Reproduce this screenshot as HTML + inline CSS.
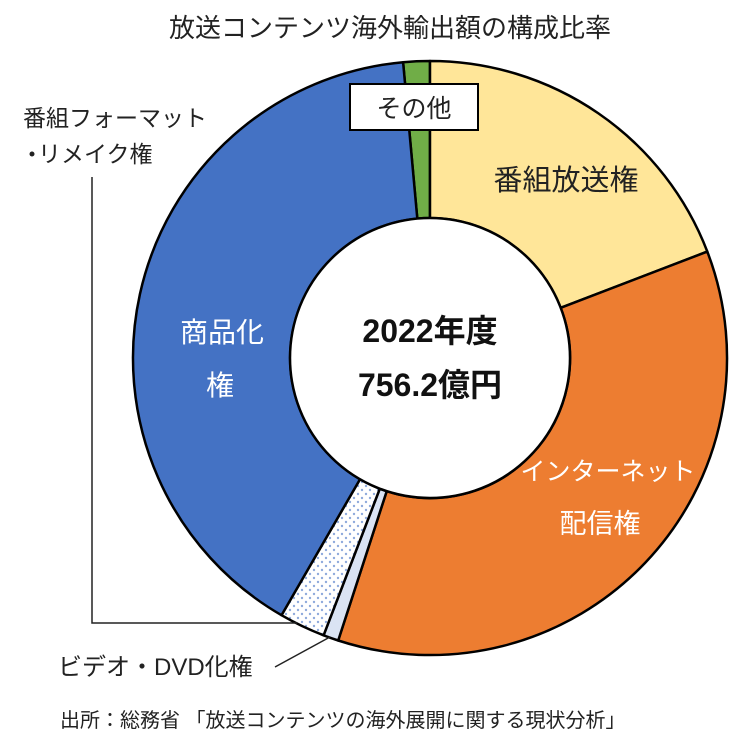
<!DOCTYPE html>
<html><head><meta charset="utf-8"><style>
html,body{margin:0;padding:0;background:#fff;}
body{width:750px;height:740px;overflow:hidden;}
svg{display:block;}
text{font-family:"Liberation Sans","Noto Sans CJK JP",sans-serif;}
</style></head><body>
<svg width="750" height="740" viewBox="0 0 750 740">
<defs>
<pattern id="dots" width="8" height="8" patternUnits="userSpaceOnUse">
<rect width="8" height="8" fill="#fff"/>
<circle cx="2" cy="2" r="1.2" fill="#8FAADC"/>
<circle cx="6" cy="6" r="1.2" fill="#8FAADC"/>
</pattern>
</defs>
<text x="390" y="37" font-size="26" text-anchor="middle" fill="#222">放送コンテンツ海外輸出額の構成比率</text>
<g stroke="#000" stroke-width="2.5" stroke-linejoin="round">
<path d="M403.1,62.2 A297,297 0 0 1 430,61 L430,218 A140,140 0 0 0 417.3,218.6 Z" fill="#70AD47"/>
<path d="M430,61 A297,297 0 0 1 707.3,251.6 L560.7,307.8 A140,140 0 0 0 430,218 Z" fill="#FFE699"/>
<path d="M707.3,251.6 A297,297 0 0 1 338.2,640.5 L386.7,491.2 A140,140 0 0 0 560.7,307.8 Z" fill="#ED7D31"/>
<path d="M338.2,640.5 A297,297 0 0 1 323.6,635.3 L379.8,488.7 A140,140 0 0 0 386.7,491.2 Z" fill="#DAE3F3"/>
<path d="M323.6,635.3 A297,297 0 0 1 281.5,615.2 L360,479.2 A140,140 0 0 0 379.8,488.7 Z" fill="url(#dots)"/>
<path d="M281.5,615.2 A297,297 0 0 1 403.1,62.2 L417.3,218.6 A140,140 0 0 0 360,479.2 Z" fill="#4472C4"/>
<circle cx="430" cy="358" r="140" fill="#fff"/>
</g>
<rect x="350" y="84" width="128" height="46" fill="#fff" stroke="#000" stroke-width="2"/>
<text x="414" y="117" font-size="25" text-anchor="middle" fill="#222">その他</text>
<text x="566" y="190" font-size="29" text-anchor="middle" fill="#222">番組放送権</text>
<text x="222" y="342" font-size="28" text-anchor="middle" fill="#fff">商品化</text>
<text x="220" y="395" font-size="28" text-anchor="middle" fill="#fff">権</text>
<text x="608" y="480" font-size="25" text-anchor="middle" fill="#fff">インターネット</text>
<text x="600" y="533" font-size="27" text-anchor="middle" fill="#fff">配信権</text>
<text x="430" y="342" font-size="32" font-weight="bold" text-anchor="middle" fill="#111">2022年度</text>
<text x="430" y="396" font-size="32" font-weight="bold" text-anchor="middle" fill="#111">756.2億円</text>
<text x="23" y="126" font-size="23" fill="#222">番組フォーマット</text>
<circle cx="32" cy="154" r="2.5" fill="#222"/>
<text x="38" y="162" font-size="23" fill="#222">リメイク権</text>
<polyline points="92,177 92,623 297,623" fill="none" stroke="#222" stroke-width="1.5"/>
<line x1="275" y1="667" x2="330" y2="637" stroke="#222" stroke-width="1.5"/>
<text x="58" y="675" font-size="24" fill="#222">ビデオ・DVD化権</text>
<text x="60" y="727" font-size="20" fill="#222">出所：総務省 「放送コンテンツの海外展開に関する現状分析」</text>
</svg>
</body></html>
